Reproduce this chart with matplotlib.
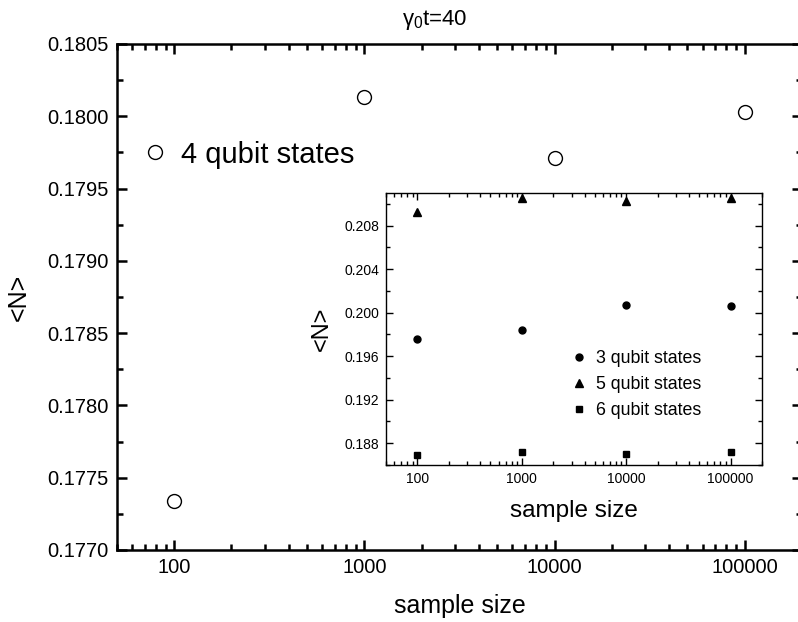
import matplotlib
matplotlib.use("Agg")
import matplotlib.pyplot as plt
from matplotlib.ticker import LogLocator, MultipleLocator, FixedLocator, NullFormatter

plt.rcParams['font.family'] = ['Liberation Sans', 'DejaVu Sans']
plt.rcParams['mathtext.fontset'] = 'custom'
plt.rcParams['mathtext.rm'] = 'Liberation Sans'
plt.rcParams['mathtext.it'] = 'Liberation Sans'

sample_sizes = [100, 1000, 10000, 100000]
n_4qubit = [0.17734, 0.18013, 0.17971, 0.18003]

n_3qubit = [0.19759, 0.19845, 0.20074, 0.20059]
n_5qubit = [0.2093, 0.2105, 0.2103, 0.2105]
n_6qubit = [0.1869, 0.18715, 0.18699, 0.18715]

tick_labels = ["100", "1000", "10000", "100000"]


def style_axes(ax, major_len, minor_len, width):
    ax.set_xscale('log')
    ax.set_xlim(50, 200000)
    ax.xaxis.set_major_locator(FixedLocator(sample_sizes))
    ax.set_xticklabels(tick_labels)
    ax.xaxis.set_minor_locator(LogLocator(base=10, subs=range(2, 10), numticks=20))
    ax.xaxis.set_minor_formatter(NullFormatter())
    ax.tick_params(which='both', direction='in', top=True, right=True, width=width)
    ax.tick_params(which='major', length=major_len)
    ax.tick_params(which='minor', length=minor_len)
    for s in ax.spines.values():
        s.set_linewidth(width)


fig = plt.figure(figsize=(7.98, 6.22), dpi=100)

# main plot
ax = fig.add_axes([0.1466, 0.1158, 0.8584, 0.8135])
ax.plot(sample_sizes, n_4qubit, 'o', mfc='white', mec='black', ms=10, mew=1.0,
        label='4 qubit states', linestyle='none')
style_axes(ax, 7.5, 4, 1.8)
ax.set_ylim(0.1770, 0.1805)
ax.yaxis.set_major_locator(MultipleLocator(0.0005))
ax.yaxis.set_minor_locator(MultipleLocator(0.00025))
ax.yaxis.set_major_formatter(plt.FormatStrFormatter('%.4f'))
ax.tick_params(labelsize=14.5, pad=6)
ax.set_xlabel('sample size', fontsize=18, labelpad=12)
ax.set_ylabel('<N>', fontsize=18, labelpad=12)
ax.legend(loc='upper left', bbox_to_anchor=(0.034, 0.809), frameon=False,
          fontsize=21, handlelength=1.0, handletextpad=0.4,
          borderaxespad=0.0, borderpad=0.0)

fig.text(0.545, 0.968, r'$\gamma_0$t=40', ha='center', va='center', fontsize=16)

# inset
ins = fig.add_axes([0.4837, 0.2524, 0.4712, 0.4373])
ins.plot(sample_sizes, n_3qubit, 'o', color='black', ms=5, linestyle='none', label='3 qubit states')
ins.plot(sample_sizes, n_5qubit, '^', color='black', ms=5.5, linestyle='none', label='5 qubit states')
ins.plot(sample_sizes, n_6qubit, 's', color='black', ms=4.5, linestyle='none', label='6 qubit states')
style_axes(ins, 5, 3, 1.0)
ins.set_ylim(0.186, 0.211)
ins.yaxis.set_major_locator(MultipleLocator(0.004))
ins.yaxis.set_minor_locator(MultipleLocator(0.002))
ins.yaxis.set_major_formatter(plt.FormatStrFormatter('%.3f'))
ins.tick_params(labelsize=10, pad=5)
ins.set_xlabel('sample size', fontsize=17.5, labelpad=10)
ins.set_ylabel('<N>', fontsize=17, labelpad=8)
ins.legend(loc='lower left', bbox_to_anchor=(0.447, 0.111), frameon=False,
           fontsize=12.8, handlelength=1.0, handletextpad=0.46, labelspacing=0.5)

fig.savefig('out.png', dpi=100)
